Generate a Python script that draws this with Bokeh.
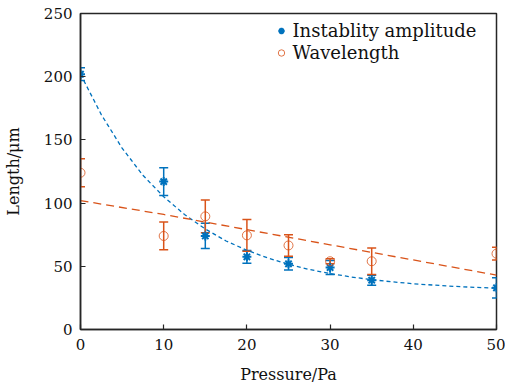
from bokeh.plotting import figure
from bokeh.models import (ColumnDataSource, Whisker, TeeHead, Legend, LegendItem, Range1d,
                          FixedTicker, Label)
from bokeh.embed import file_html
from bokeh.resources import INLINE

# ---- data ----
pressure = [0, 10, 15, 20, 25, 30, 35, 50]
amp = [202, 117, 74, 57.5, 52, 49, 39, 33]
amp_err = [5, 11, 10, 5, 5, 5.5, 4, 8]
wave = [124, 74, 89.5, 74.5, 66.5, 54, 54, 60]
wave_err = [11, 11, 13, 12.5, 8.5, 2, 10.5, 5]

amp_fit_x = [0, 2.5, 5, 7.5, 10, 12.5, 15, 17.5, 20, 22.5, 25, 27.5, 30, 32.5, 35, 37.5, 40, 42.5, 45, 47.5, 50]
amp_fit = [202, 170, 143.5, 122, 105, 91, 79.5, 70, 62.7, 56.6, 51.6, 47.5, 44.3, 41.6, 39.4, 37.7, 36.2, 35.1, 34.1, 33.3, 32.7]
wave_fit_x = [0, 10, 20, 30, 40, 50]
wave_fit = [102, 91, 79, 67, 55, 43]

series_names = ["Instablity amplitude", "Wavelength"]
x_ticks = [0, 10, 20, 30, 40, 50]
y_ticks = [0, 50, 100, 150, 200, 250]

BLUE = "#0072BD"
ORANGE = "#D95319"
AX = "#262626"
FONT = "DejaVu Serif"

p = figure(width=505, height=388, output_backend="svg", toolbar_location=None,
           x_range=Range1d(0, 50), y_range=Range1d(0, 250),
           min_border_left=80, min_border_right=9, min_border_top=13, min_border_bottom=59)
p.xgrid.visible = False
p.ygrid.visible = False
p.outline_line_color = AX
p.outline_line_width = 1.5
p.outline_line_alpha = 1

amp_src = ColumnDataSource(dict(x=pressure, y=amp,
                                lo=[a - e for a, e in zip(amp, amp_err)],
                                hi=[a + e for a, e in zip(amp, amp_err)]))
wave_src = ColumnDataSource(dict(x=pressure, y=wave,
                                 lo=[a - e for a, e in zip(wave, wave_err)],
                                 hi=[a + e for a, e in zip(wave, wave_err)]))

# fits
p.line(amp_fit_x, amp_fit, line_color=BLUE, line_width=1.3, line_dash="4 3")
p.line(wave_fit_x, wave_fit, line_color=ORANGE, line_width=1.3, line_dash="8 5")

for src, col in ((amp_src, BLUE), (wave_src, ORANGE)):
    w = Whisker(source=src, base="x", upper="hi", lower="lo", line_color=col, line_width=1.5,
                upper_head=TeeHead(size=9, line_color=col, line_width=1.5),
                lower_head=TeeHead(size=9, line_color=col, line_width=1.5))
    p.add_layout(w)

r_amp = p.scatter("x", "y", source=amp_src, marker="asterisk", size=9, line_color=BLUE, line_width=2)
r_wave = p.scatter("x", "y", source=wave_src, marker="circle", size=9, fill_color=None,
                   line_color=ORANGE, line_width=1, line_alpha=0.8)

# legend glyphs (labels drawn as serif Labels beside them)
legend = Legend(items=[LegendItem(label=" ", renderers=[r_amp]),
                       LegendItem(label=" ", renderers=[r_wave])],
                location=(193, 266), border_line_color=None, background_fill_alpha=0,
                label_text_font_size="1px", label_standoff=0,
                glyph_width=16, glyph_height=21, spacing=1, padding=0, margin=0)
p.add_layout(legend)

for name, sy in zip(series_names, (299, 277)):
    p.add_layout(Label(x=212, y=sy, x_units="screen", y_units="screen", text=name,
                       text_font=FONT, text_font_size="18px", text_color="#111111",
                       text_baseline="middle", text_align="left"))

for ax in (p.xaxis[0], p.yaxis[0]):
    ax.axis_line_color = AX
    ax.axis_line_width = 1.5
    ax.major_tick_line_color = AX
    ax.major_tick_line_width = 1.2
    ax.major_tick_in = 5
    ax.major_tick_out = 0
    ax.minor_tick_line_color = None
    ax.major_label_text_font = FONT
    ax.major_label_text_font_size = "15px"
    ax.major_label_text_color = "#111111"
    ax.axis_label_text_font = FONT
    ax.axis_label_text_font_size = "16px"
    ax.axis_label_text_font_style = "normal"
    ax.axis_label_text_color = "#111111"

p.xaxis.ticker = FixedTicker(ticks=x_ticks)
p.yaxis.ticker = FixedTicker(ticks=y_ticks)
p.xaxis.axis_label = "Pressure/Pa"
p.yaxis.axis_label = "Length/\u03bcm"
p.xaxis.major_label_standoff = 9
p.yaxis.major_label_standoff = 8
p.xaxis.axis_label_standoff = 12
p.yaxis.axis_label_standoff = 18

open("out.html", "w").write(file_html(p, INLINE))
